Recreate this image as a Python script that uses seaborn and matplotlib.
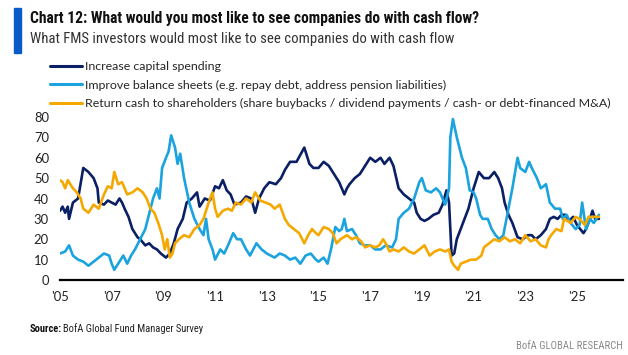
import numpy as np
import pandas as pd
import matplotlib
matplotlib.use("Agg")
import matplotlib.pyplot as plt
from matplotlib import font_manager
from matplotlib.lines import Line2D
import seaborn as sns

# ---------------- data ----------------
capex_t = [2005.0, 2005.1, 2005.2, 2005.3, 2005.35, 2005.5, 2005.7, 2005.9, 2006.1, 2006.3,
           2006.45, 2006.5, 2006.7, 2006.85, 2007.0, 2007.15, 2007.3, 2007.4, 2007.5, 2007.65,
           2007.8, 2008.0, 2008.1, 2008.3, 2008.45, 2008.6, 2008.75, 2008.9, 2009.0, 2009.1,
           2009.25, 2009.4, 2009.55, 2009.75, 2009.9, 2010.1, 2010.3, 2010.4, 2010.6, 2010.8,
           2011.0, 2011.15, 2011.3, 2011.45, 2011.6, 2011.75, 2012.0, 2012.2, 2012.4, 2012.55,
           2012.7, 2012.9, 2013.1, 2013.35, 2013.55, 2013.7, 2013.9, 2014.15, 2014.45, 2014.65,
           2014.8, 2015.0, 2015.2, 2015.4, 2015.6, 2015.8, 2016.0, 2016.1, 2016.2, 2016.4,
           2016.6, 2016.8, 2017.0, 2017.2, 2017.4, 2017.55, 2017.75, 2017.9, 2018.1, 2018.3,
           2018.5, 2018.7, 2018.8, 2018.95, 2019.1, 2019.25, 2019.45, 2019.65, 2019.8, 2019.95,
           2020.05, 2020.15, 2020.25, 2020.35, 2020.5, 2020.65, 2020.8, 2021.0, 2021.2, 2021.4,
           2021.6, 2021.8, 2021.95, 2022.1, 2022.2, 2022.35, 2022.5, 2022.7, 2022.9, 2023.1,
           2023.25, 2023.4, 2023.6, 2023.8, 2023.95, 2024.1, 2024.25, 2024.4, 2024.55, 2024.7,
           2024.85, 2025.0, 2025.25, 2025.35, 2025.5, 2025.6, 2025.7, 2025.85]
capex_v = [34, 36, 33, 36, 30, 38, 40, 55, 53, 50,
           45, 38, 37, 39, 38, 37, 40, 38, 35, 31,
           25, 21, 20, 17, 18, 16, 15, 13, 12, 11,
           13, 18, 25, 30, 38, 40, 43, 36, 40, 39,
           46, 45, 49, 44, 42, 37, 38, 41, 40, 33,
           40, 45, 48, 47, 50, 54, 58, 58, 65, 57,
           55, 55, 58, 56, 52, 48, 42, 45, 47, 50,
           52, 56, 60, 58, 60, 57, 60, 56, 45, 42,
           40, 38, 33, 30, 29, 30, 32, 33, 37, 44,
           38, 12, 13, 20, 25, 30, 35, 45, 53, 50,
           50, 53, 50, 45, 38, 32, 28, 21, 20, 22,
           22, 20, 22, 25, 30, 31, 30, 32, 32, 29,
           31, 27, 23, 25, 30, 34, 30, 30]

bal_t = [2005.0, 2005.2, 2005.35, 2005.5, 2005.7, 2005.9, 2006.1, 2006.3, 2006.5, 2006.7,
         2006.9, 2007.0, 2007.1, 2007.3, 2007.45, 2007.6, 2007.75, 2007.9, 2008.1, 2008.3,
         2008.5, 2008.6, 2008.75, 2008.85, 2008.95, 2009.1, 2009.2, 2009.3, 2009.45, 2009.55,
         2009.65, 2009.8, 2010.0, 2010.2, 2010.4, 2010.55, 2010.65, 2010.75, 2010.9, 2011.0,
         2011.2, 2011.35, 2011.5, 2011.7, 2011.85, 2012.0, 2012.2, 2012.35, 2012.6, 2012.8,
         2013.0, 2013.3, 2013.5, 2013.7, 2013.9, 2014.1, 2014.3, 2014.5, 2014.7, 2014.9,
         2015.0, 2015.2, 2015.35, 2015.5, 2015.65, 2015.8, 2015.9, 2016.0, 2016.1, 2016.3,
         2016.45, 2016.6, 2016.8, 2017.0, 2017.2, 2017.4, 2017.6, 2017.85, 2018.0, 2018.1,
         2018.3, 2018.5, 2018.7, 2018.9, 2019.0, 2019.15, 2019.35, 2019.55, 2019.7, 2019.9,
         2020.05, 2020.1, 2020.2, 2020.35, 2020.55, 2020.7, 2020.85, 2021.0, 2021.1, 2021.25,
         2021.35, 2021.55, 2021.7, 2021.85, 2022.0, 2022.15, 2022.35, 2022.5, 2022.7, 2022.8,
         2023.0, 2023.15, 2023.25, 2023.45, 2023.6, 2023.8, 2023.95, 2024.15, 2024.35, 2024.45,
         2024.6, 2024.75, 2024.95, 2025.1, 2025.2, 2025.35, 2025.5, 2025.65, 2025.75, 2025.85]
bal_v = [13, 14, 17, 12, 10, 9, 7, 9, 11, 13,
         12, 8, 5, 9, 12, 8, 12, 15, 20, 25,
         35, 40, 45, 40, 55, 60, 63, 71, 65, 57,
         62, 50, 38, 30, 25, 22, 30, 20, 15, 10,
         15, 13, 17, 23, 20, 20, 15, 12, 18, 15,
         13, 11, 13, 12, 10, 11, 8, 12, 13, 10,
         9, 11, 8, 16, 26, 24, 25, 30, 24, 25,
         22, 18, 17, 17, 15, 15, 17, 16, 20, 30,
         33, 35, 40, 48, 50, 44, 43, 45, 43, 37,
         45, 70, 79, 70, 60, 55, 44, 43, 40, 32,
         30, 30, 25, 22, 20, 22, 35, 45, 60, 55,
         53, 58, 55, 50, 45, 47, 38, 35, 35, 30,
         32, 28, 25, 27, 38, 25, 30, 28, 30, 32]

ret_t = [2005.0, 2005.1, 2005.2, 2005.3, 2005.5, 2005.65, 2005.8, 2005.9, 2006.1, 2006.3,
         2006.5, 2006.7, 2006.85, 2007.0, 2007.1, 2007.25, 2007.4, 2007.6, 2007.8, 2008.0,
         2008.2, 2008.35, 2008.5, 2008.65, 2008.8, 2008.95, 2009.05, 2009.15, 2009.25, 2009.35,
         2009.45, 2009.6, 2009.8, 2010.0, 2010.2, 2010.4, 2010.55, 2010.75, 2010.9, 2011.0,
         2011.1, 2011.3, 2011.5, 2011.65, 2011.8, 2012.0, 2012.2, 2012.4, 2012.55, 2012.75,
         2012.95, 2013.15, 2013.3, 2013.5, 2013.7, 2013.85, 2014.05, 2014.25, 2014.45, 2014.6,
         2014.75, 2014.9, 2015.0, 2015.2, 2015.4, 2015.55, 2015.7, 2015.85, 2016.1, 2016.3,
         2016.45, 2016.65, 2016.8, 2017.0, 2017.2, 2017.35, 2017.5, 2017.6, 2017.75, 2017.9,
         2018.1, 2018.3, 2018.5, 2018.7, 2018.9, 2019.1, 2019.3, 2019.5, 2019.7, 2019.9,
         2020.05, 2020.15, 2020.25, 2020.4, 2020.5, 2020.7, 2020.9, 2021.1, 2021.3, 2021.4,
         2021.6, 2021.8, 2022.0, 2022.2, 2022.4, 2022.6, 2022.8, 2023.0, 2023.2, 2023.4,
         2023.6, 2023.8, 2023.9, 2024.0, 2024.2, 2024.4, 2024.5, 2024.75, 2024.95, 2025.1,
         2025.3, 2025.45, 2025.65, 2025.85]
ret_v = [49, 48, 45, 49, 45, 43, 40, 35, 33, 37,
         35, 42, 46, 45, 53, 47, 48, 42, 43, 45,
         43, 40, 35, 33, 28, 22, 15, 20, 11, 13,
         18, 20, 22, 21, 25, 27, 30, 38, 43, 35,
         31, 34, 35, 34, 38, 37, 40, 38, 43, 39,
         38, 37, 35, 37, 30, 27, 25, 23, 18, 22,
         25, 23, 22, 26, 25, 23, 18, 20, 22, 20,
         21, 19, 16, 17, 16, 17, 20, 18, 14, 15,
         14, 16, 14, 13, 15, 17, 12, 14, 15, 14,
         15, 9, 7, 5, 8, 9, 10, 10, 12, 16,
         18, 20, 19, 21, 19, 20, 18, 22, 19, 20,
         17, 16, 20, 22, 25, 24, 30, 28, 31, 30,
         27, 31, 31, 31]

series_names = [
    "Increase capital spending",
    "Improve balance sheets (e.g. repay debt, address pension liabilities)",
    "Return cash to shareholders (share buybacks / dividend payments / cash- or debt-financed M&A)",
]
series_colors = ["#0b1f65", "#1aa3df", "#f5a800"]
x_tick_years = [2005, 2007, 2009, 2011, 2013, 2015, 2017, 2019, 2021, 2023, 2025]
x_tick_labels = ["'05", "'07", "'09", "'11", "'13", "'15", "'17", "'19", "'21", "'23", "'25"]
y_ticks = [0, 10, 20, 30, 40, 50, 60, 70, 80]

df = pd.concat([
    pd.DataFrame({"t": capex_t, "v": capex_v, "s": series_names[0]}),
    pd.DataFrame({"t": bal_t, "v": bal_v, "s": series_names[1]}),
    pd.DataFrame({"t": ret_t, "v": ret_v, "s": series_names[2]}),
], ignore_index=True)

# ---------------- fonts ----------------
avail = {f.name for f in font_manager.fontManager.ttflist}
def pick(*names):
    for n in names:
        if n in avail:
            return n
    return "DejaVu Sans"
narrow = pick("Liberation Sans Narrow", "Roboto Condensed", "Open Sans Condensed", "Lato")
body = pick("Lato", "Open Sans", "Noto Sans")

sns.set_theme(style="white")
plt.rcParams["font.family"] = [body, "DejaVu Sans"]

fig = plt.figure(figsize=(6.28, 3.55), dpi=100)
ax = fig.add_axes([60 / 628, 1 - 280 / 355, 563 / 628, (280 - 117) / 355])

sns.lineplot(data=df, x="t", y="v", hue="s", hue_order=series_names,
             palette=series_colors, linewidth=1.9, ax=ax, legend=False,
             estimator=None, sort=False)

ax.set_xlim(2005.0, 2026.78)
ax.set_ylim(0, 80)
ax.set_xticks(x_tick_years)
ax.set_xticklabels(x_tick_labels)
ax.set_yticks(y_ticks)
ax.set_xlabel("")
ax.set_ylabel("")
ax.tick_params(axis="both", length=0, labelsize=9.4, colors="#222222")
ax.tick_params(axis="x", pad=8)
ax.tick_params(axis="y", pad=8)
for s in ["top", "right", "left"]:
    ax.spines[s].set_visible(False)
ax.spines["bottom"].set_color("black")
ax.spines["bottom"].set_linewidth(1.6)
ax.set_facecolor("white")

# legend
handles = [Line2D([0], [0], color=c, lw=2.2) for c in series_colors]
fig.legend(handles, series_names, loc="upper left",
           bbox_to_anchor=(50 / 628, 1 - 61 / 355), frameon=False,
           fontsize=8.9, handlelength=2.6, handletextpad=0.25,
           labelspacing=0.62, borderaxespad=0, borderpad=0)

# title block
fig.patches.append(plt.Rectangle((14 / 628, 1 - 53 / 355), 7 / 628, 45 / 355,
                                 transform=fig.transFigure, color="#0a5bc8"))
fig.text(30 / 628, 1 - 19 / 355, "Chart 12: What would you most like to see companies do with cash flow?",
         fontsize=11.2, fontweight="bold", family=[narrow, "DejaVu Sans"],
         va="center", ha="left", color="#111111")
fig.text(30 / 628, 1 - 39 / 355, "What FMS investors would most like to see companies do with cash flow",
         fontsize=10.6, family=[narrow, "DejaVu Sans"], va="center", ha="left", color="#333333")

# footer
fig.text(30 / 628, 1 - 329 / 355, "Source:", fontsize=7.6, fontweight="bold",
         family=[narrow, "DejaVu Sans"], va="center", ha="left", color="#111111")
fig.text(63 / 628, 1 - 329 / 355, "BofA Global Fund Manager Survey", fontsize=7.6,
         family=[narrow, "DejaVu Sans"], va="center", ha="left", color="#222222")
fig.text(623 / 628, 1 - 346 / 355, "BofA GLOBAL RESEARCH", fontsize=7.7,
         family=[narrow, "DejaVu Sans"], va="center", ha="right", color="#8a8a8a")

fig.savefig("out.png", dpi=100, facecolor="white")
